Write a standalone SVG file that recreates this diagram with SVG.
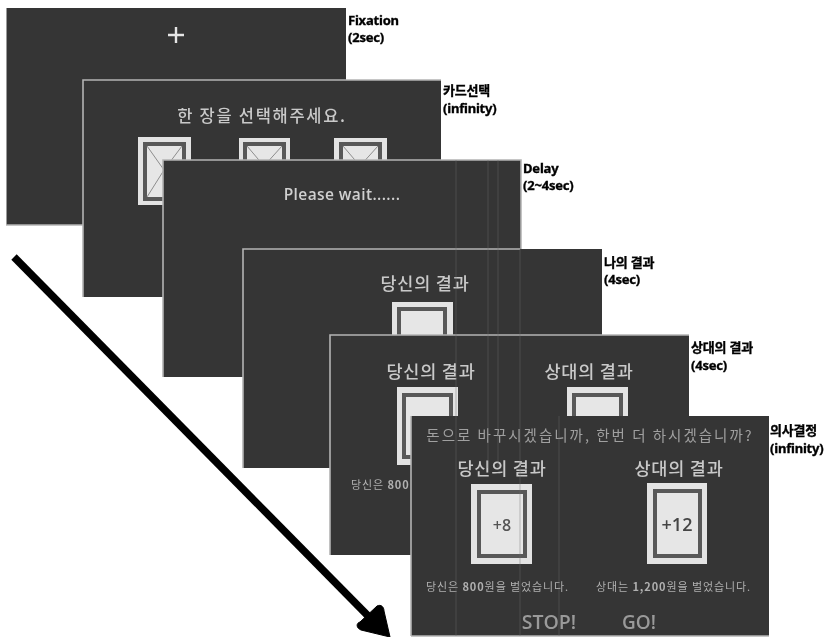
<svg xmlns="http://www.w3.org/2000/svg" width="830" height="639" viewBox="0 0 830 639">
<defs><filter id="scan" x="0" y="0" width="100%" height="100%"><feGaussianBlur stdDeviation="0.45"/></filter></defs>
<style>
text{font-family:"Open Sans","Noto Sans CJK KR",sans-serif}
.p{fill:#353535}
.e{fill:none;stroke:#b4b4b4;stroke-width:1.6}
.t{fill:#c9c9c9;text-anchor:middle;font-size:17.5px;font-weight:500;letter-spacing:.8px;font-family:"Noto Sans CJK KR","Noto Sans",sans-serif}
.m{fill:#b0b0b0;font-size:11px;letter-spacing:.9px;font-family:"Noto Sans CJK KR","Noto Sans",sans-serif}
.l{fill:#000;stroke:#000;stroke-width:.35;font-size:13px;font-weight:700;font-family:"Noto Sans","Noto Sans CJK KR",sans-serif;letter-spacing:-.2px}
.co{fill:#e3e3e3}.ci{fill:#e6e6e6;stroke:#585858;stroke-width:4}
.sc{stroke:#6a6a6a;stroke-width:1;opacity:.4;fill:none}
.x{stroke:#8d8d8d;stroke-width:1;fill:none}
</style>
<rect width="830" height="639" fill="#fff"/>
<g filter="url(#scan)">
<g id="panel-fixation">
<rect class="p" x="6" y="8" width="340" height="217"/>
<path class="e" d="M6 225H83M6 225V8" stroke-width="1"/>
<path d="M176 27V43M168 35H184" stroke="#e6e6e6" stroke-width="2.4"/>
<text class="l" x="348" y="25">Fixation</text><text class="l" x="348" y="42">(2sec)</text>
</g>
<g id="panel-card-select">
<rect class="p" x="83" y="80" width="358" height="217"/>
<path class="e" d="M83 297V80H441"/>
<text class="t" x="262" y="122" style="font-size:16.5px;letter-spacing:1.7px">한 장을 선택해주세요.</text>
<rect class="co" x="138" y="137" width="53" height="68"/><rect class="ci" x="145" y="144" width="39" height="55"/><path class="x" d="M147 146L164 170L182 146M147 197L164 170L182 197"/>
<rect class="co" x="239" y="138" width="51" height="30"/><rect class="ci" x="245" y="144" width="39" height="40"/>
<rect class="co" x="334" y="138" width="53" height="30"/><rect class="ci" x="341" y="144" width="39" height="40"/>
<path class="x" d="M247 146L264 166L282 146M343 146L360 166L378 146"/>
<text class="l" x="443" y="95">카드선택</text><text class="l" x="443" y="113">(infinity)</text>
</g>
<g id="panel-delay">
<rect class="p" x="163" y="160" width="358" height="217"/>
<path class="e" d="M163 377V160H521V249"/>
<text x="342" y="200" fill="#d0d0d0" font-size="15.5" font-weight="600" text-anchor="middle" letter-spacing=".4">Please wait......</text>
<text class="l" x="523" y="173">Delay</text><text class="l" x="523" y="190">(2~4sec)</text>
</g>
<g id="panel-my-result">
<rect class="p" x="243" y="249" width="359" height="219"/>
<path class="e" d="M243 468V249H520"/>
<text class="t" x="425" y="290">당신의 결과</text>
<rect class="co" x="392" y="302" width="61" height="33"/><rect class="ci" x="399" y="309" width="46" height="40"/>
<text class="l" x="604" y="267">나의 결과</text><text class="l" x="604" y="284">(4sec)</text>
</g>
<g id="panel-other-result">
<rect class="p" x="330" y="335" width="359" height="220"/>
<path class="e" d="M330 555V335H689"/>
<text class="t" x="431" y="378">당신의 결과</text>
<text class="t" x="589" y="378">상대의 결과</text>
<rect class="co" x="397" y="387" width="61" height="78"/><rect class="ci" x="404" y="395" width="47" height="62"/>
<rect class="co" x="567" y="387" width="61" height="30"/><rect class="ci" x="574" y="395" width="47" height="40"/>
<text class="m" x="351" y="489">당신은 <tspan font-weight="700">800</tspan></text>
<text class="l" x="691" y="352">상대의 결과</text><text class="l" x="691" y="370">(4sec)</text>
</g>
<g id="panel-decision">
<rect class="p" x="411" y="416" width="358" height="220"/>
<path class="e" d="M411 636V416"/><path class="e" d="M411 636H769"/>
<text x="590" y="441" fill="#a0a0a0" font-size="14.5" text-anchor="middle" letter-spacing="2" style="font-family:'Noto Sans CJK KR',sans-serif">돈으로 바꾸시겠습니까, 한번 더 하시겠습니까?</text>
<text class="t" x="502" y="475">당신의 결과</text>
<text class="t" x="679" y="475">상대의 결과</text>
<rect class="co" x="471" y="484" width="61" height="80"/><rect class="ci" x="479" y="492" width="46" height="64"/>
<text x="502" y="531" fill="#555" font-size="16" font-weight="600" text-anchor="middle">+8</text>
<rect class="co" x="647" y="483" width="60" height="81"/><rect class="ci" x="655" y="491" width="45" height="65"/>
<text x="677" y="531" fill="#444" font-size="18" font-weight="600" text-anchor="middle">+12</text>
<text class="m" x="426" y="591">당신은 <tspan font-weight="700">800</tspan>원을 벌었습니다.</text>
<text class="m" x="596" y="591">상대는 <tspan font-weight="700">1,200</tspan>원을 벌었습니다.</text>
<text x="549" y="629" fill="#9a9a9a" font-size="19.5" font-weight="600" text-anchor="middle">STOP!</text>
<text x="639" y="629" fill="#9a9a9a" font-size="19" font-weight="600" text-anchor="middle">GO!</text>
<text class="l" x="770" y="435">의사결정</text><text class="l" x="770" y="453">(infinity)</text>
</g>
<g class="sc"><path d="M456 160V636M488 160V468M498 160V468M520 249V636M559 416V636"/></g>
<g id="connectors">
<path d="M14 257L380 628" stroke="#000" stroke-width="7.5" fill="none"/>
<path d="M377 606C381 604 384 607 384 611L390 637L361 630C356 628 356 623 360 622Z" fill="#000" stroke="#000" stroke-width="1"/>
</g>
</g>
</svg>
